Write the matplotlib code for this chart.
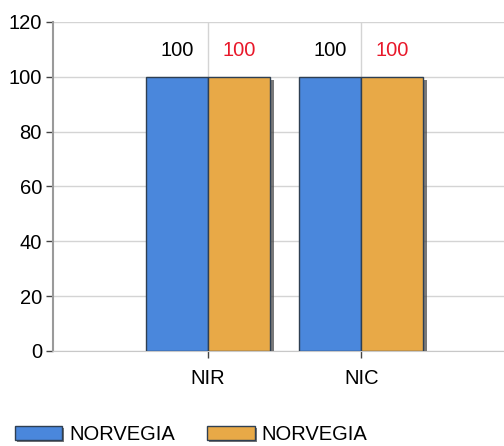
import matplotlib.pyplot as plt
import matplotlib.patheffects as pe
import numpy as np

plt.rcParams['font.family'] = ['Liberation Sans', 'DejaVu Sans']

categories = ["NIR", "NIC"]
series_a = [100, 100]
series_b = [100, 100]
series_names = ["NORVEGIA", "NORVEGIA"]
yticks = [0, 20, 40, 60, 80, 100, 120]

BLUE = "#4a87dc"
ORANGE = "#e8a947"
EDGE = "#2e3f52"
FS = 14.5

fig = plt.figure(figsize=(5.04, 4.46), dpi=100)
ax = fig.add_axes([53 / 504, 95 / 446, 451 / 504, 329 / 446])

x = np.arange(len(categories))
w = 0.405
shadow = [pe.SimplePatchShadow(offset=(2.5, -2.5), shadow_rgbFace="#404040", alpha=0.7), pe.Normal()]
bars_a = ax.bar(x - w / 2, series_a, w, color=BLUE, edgecolor=EDGE, linewidth=1,
                label=series_names[0], zorder=3)
bars_b = ax.bar(x + w / 2, series_b, w, color=ORANGE, edgecolor=EDGE, linewidth=1,
                label=series_names[1], zorder=3)
for b in list(bars_a) + list(bars_b):
    b.set_path_effects(shadow)

for xi, v in zip(x, series_a):
    ax.text(xi - w / 2, v + 6, str(v), ha="center", va="bottom", fontsize=FS, color="black")
for xi, v in zip(x, series_b):
    ax.text(xi + w / 2, v + 6, str(v), ha="center", va="bottom", fontsize=FS, color="#e8182a")

ax.set_xlim(-1.01, 1.93)
ax.set_ylim(0, 120)
ax.set_yticks(yticks)
ax.set_xticks(x)
ax.set_xticklabels(categories)
ax.tick_params(axis="both", labelsize=FS, length=5, width=1, color="#444444", pad=3)
ax.tick_params(axis="x", pad=8)
ax.grid(True, color="#d4d4d4", linewidth=1, zorder=0)
ax.set_axisbelow(True)
for s in ["top", "right"]:
    ax.spines[s].set_visible(False)
ax.spines["left"].set_color("#9a9a9a")
ax.spines["left"].set_linewidth(1.5)
ax.spines["bottom"].set_color("#c8c8c8")

leg = fig.legend(loc="lower left", bbox_to_anchor=(15 / 504, 2 / 446), ncol=2, frameon=False,
                 fontsize=FS, handlelength=2.35, handleheight=0.72, handletextpad=0.35,
                 columnspacing=1.6, borderpad=0, borderaxespad=0)
for h in leg.legend_handles:
    h.set_path_effects([pe.SimplePatchShadow(offset=(1.5, -1.5), shadow_rgbFace="#404040", alpha=0.7), pe.Normal()])

fig.savefig("out.png", dpi=100)
